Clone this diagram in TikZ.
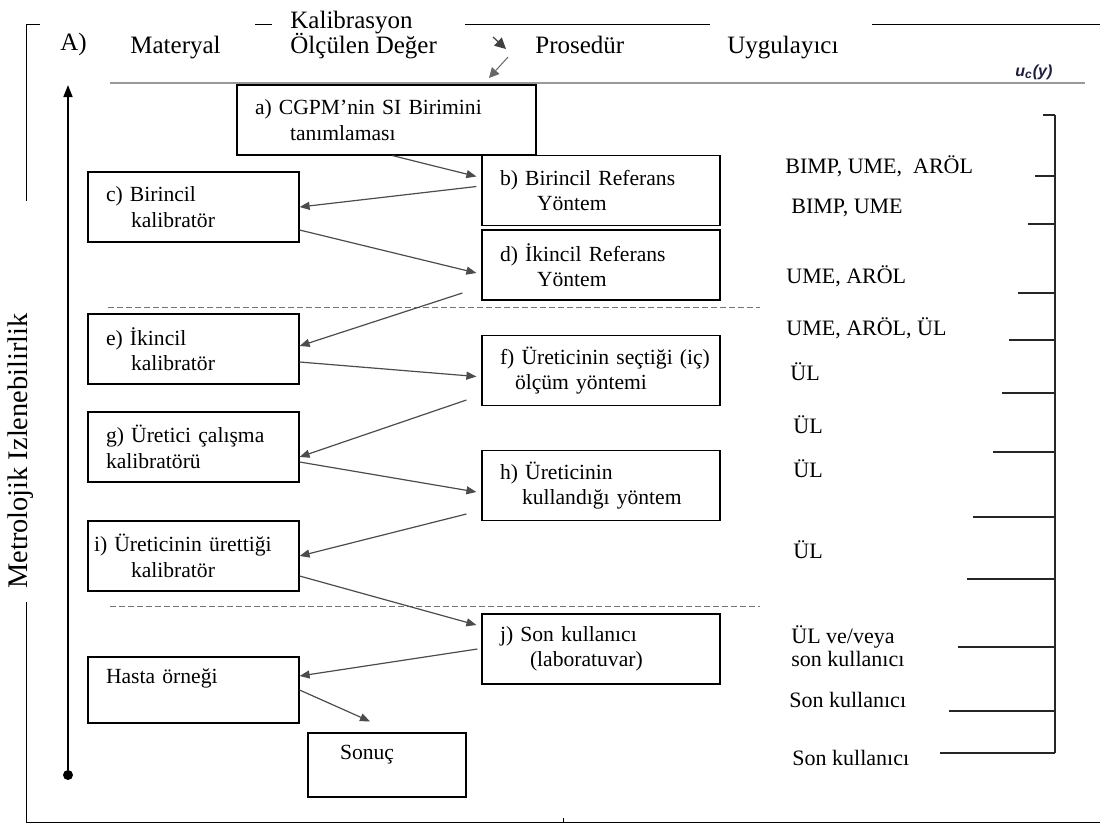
\documentclass[tikz,border=0pt]{standalone}
\usepackage{fontspec}
\setmainfont{Liberation Serif}
\setsansfont{Liberation Sans}
\usepackage{tikz}
\usetikzlibrary{arrows.meta,positioning}
\definecolor{ucol}{RGB}{28,30,60}

\begin{document}
\begin{tikzpicture}[x=0.5pt,y=-0.5pt,
    box/.style={draw,line width=0.6pt,font=\fontsize{10.8}{12.75}\selectfont,align=left,inner xsep=9pt,inner ysep=0pt,minimum height=35pt},
    lbox/.style={box,text width=87.5pt},
    rbox/.style={box,text width=101pt},
    hd/.style={font=\fontsize{12.5}{14}\selectfont,anchor=base west,inner sep=0pt},
    lab/.style={font=\fontsize{11}{11.5}\selectfont,anchor=base west,inner sep=0pt,align=left},
    ed/.style={draw=black!70,line width=0.6pt,-{Triangle[length=5pt,width=4pt]}},
    frame/.style={draw=black,line width=0.5pt},
    sep/.style={draw=black!55,line width=0.5pt,dash pattern=on 3pt off 1.5pt},
    tk/.style={draw=black!85,line width=0.6pt}]
   \useasboundingbox (0,0) rectangle (1100,827);
   % frame and header
   \draw[frame] (40,24) -- (26.5,24) -- (26.5,201);
   \draw[frame] (26.5,602) -- (26.5,822) -- (1100,822);
   \draw[frame] (255,24) -- (272,24);
   \draw[frame] (465,24) -- (710,24);
   \draw[frame] (872,24) -- (1100,24);
   \draw[frame] (563,818) -- (563,822);
   \draw[black!40,line width=1pt] (110,83) -- (1085,83);
   \node[hd] (ah)  at (60,50)   {A)};
   \node[hd] (mat) at (130,53)  {Materyal};
   \node[hd] (kal) at (290,28)  {Kalibrasyon};
   \node[hd] (olc) at (290,53)  {Ölçülen Değer};
   \node[hd] (pro) at (535,53)  {Prosedür};
   \node[hd] (uyg) at (727,53)  {Uygulayıcı};
   \node[anchor=base west,inner sep=0pt,text=ucol,font=\sffamily\bfseries\itshape\fontsize{8}{9}\selectfont] (uc) at (1015,76) {u\textsubscript{c}(y)};
   \coordinate (k1) at (493,37); \coordinate (k2) at (506,49);
   \coordinate (k3) at (508,57); \coordinate (k4) at (489,78);
   \draw[black!75,line width=0.6pt,-{Triangle[length=5.5pt,width=5.5pt]}] (k1) -- (k2);
   \draw[black!60,line width=0.5pt,-{Triangle[length=5pt,width=5pt]}] (k3) -- (k4);
   % traceability axis
   \node[rotate=90,font=\fontsize{14.2}{16}\selectfont] (mi) at (21,451) {Metrolojik Izlenebilirlik};
   \coordinate (ust) at (68,85);
   \node[fill,circle,inner sep=0pt,minimum size=5pt] (alt) at (68,775) {};
   \draw[line width=0.8pt,-{Triangle[length=6pt,width=4.5pt]}] (alt) -- (ust);
   % boxes
   \node[box,text width=131.5pt] (a) at (386.5,120) {a) CGPM’nin SI Birimini\\\hspace*{17.5pt}tanımlaması};
   \node[rbox] (b) at (601,190.5) {b) Birincil Referans\\\hspace*{18.5pt}Yöntem};
   \node[lbox] (c) at (193.5,207) {c) Birincil\\\hspace*{12.5pt}kalibratör};
   \node[rbox] (d) at (601,265)   {d) İkincil Referans\\\hspace*{18.5pt}Yöntem};
   \node[lbox] (e) at (193.5,349) {e) İkincil\\\hspace*{12.5pt}kalibratör};
   \node[rbox] (f) at (601,370.5) {\mbox{f) Üreticinin seçtiği (iç)}\\\hspace*{7.5pt}ölçüm yöntemi};
   \node[lbox] (g) at (193.5,447) {g) Üretici çalışma\\kalibratörü};
   \node[rbox] (h) at (601,485.5) {h) Üreticinin\\\hspace*{11pt}kullandığı yöntem};
   \node[lbox] (i) at (193.5,556) {\mbox{\hspace*{-6pt}i) Üreticinin ürettiği}\\\hspace*{12.5pt}kalibratör};
   \node[rbox] (j) at (601,649)   {j) Son kullanıcı\\\hspace*{15pt}(laboratuvar)};
   \node[lbox,minimum height=33pt,text depth=14pt] (ha) at (193.5,690) {Hasta örneği};
   \node[box,text width=61pt,minimum height=32pt,text depth=12.5pt] (so) at (387,765) {\hspace*{7pt}Sonuç};
   \draw[sep] (108,307) -- (760,307);
   \draw[sep] (110,606) -- (760,606);
   % flow
   \draw[ed] ([xshift=3pt]a.south) -- ([xshift=-2.5pt,yshift=7pt]b.west);
   \draw[ed] ([xshift=-2.5pt,yshift=2pt]b.west) -- (c.east);
   \draw[ed] ([yshift=-11.5pt]c.east) -- ([xshift=-2.5pt,yshift=-4pt]d.west);
   \draw[ed] ([xshift=-9.5pt,yshift=-14pt]d.west) -- ([yshift=1.5pt]e.east);
   \draw[ed] ([yshift=-6.5pt]e.east) -- ([xshift=-2.5pt,yshift=-3pt]f.west);
   \draw[ed] ([xshift=-7.5pt,yshift=-14.75pt]f.west) -- ([yshift=-5pt]g.east);
   \draw[ed] ([yshift=-7.5pt]g.east) -- ([xshift=-2.5pt,yshift=-3.25pt]h.west);
   \draw[ed] ([xshift=-7.5pt,yshift=-14.25pt]h.west) -- (i.east);
   \draw[ed] ([yshift=-10pt]i.east) -- ([xshift=-2.5pt,yshift=12pt]j.west);
   \draw[ed] ([xshift=-2pt]j.west) -- ([yshift=7pt]ha.east);
   \draw[ed] (ha.east) -- ([xshift=-8.5pt,yshift=5.5pt]so.north);
   % uncertainty scale
   \draw[tk] (1055,115) -- (1055,753)
      (1043,115) -- (1055,115) (1035,176) -- (1055,176) (1028,224) -- (1055,224)
      (1018,293) -- (1055,293) (1009,340) -- (1055,340) (1002,393) -- (1055,393)
      (993,452) -- (1055,452)  (973,517) -- (1055,517)  (967,579) -- (1055,579)
      (958,647) -- (1055,647)  (949,711) -- (1055,711)  (940,753) -- (1055,753);
   \node[lab] (u1)  at (785,173) {BIMP, UME,\ \ ARÖL};
   \node[lab] (u2)  at (791,213) {BIMP, UME};
   \node[lab] (u3)  at (786,283) {UME, ARÖL};
   \node[lab] (u4)  at (786,335) {UME, ARÖL, ÜL};
   \node[lab] (u5)  at (790,380) {ÜL};
   \node[lab] (u6)  at (793,433) {ÜL};
   \node[lab] (u7)  at (793,477) {ÜL};
   \node[lab] (u8)  at (793,558) {ÜL};
   \node[lab,anchor=west] (u9) at (791,646) {ÜL ve/veya\\son kullanıcı};
   \node[lab] (u10) at (789,707) {Son kullanıcı};
   \node[lab] (u11) at (792,765) {Son kullanıcı};
  \end{tikzpicture}
\end{document}
